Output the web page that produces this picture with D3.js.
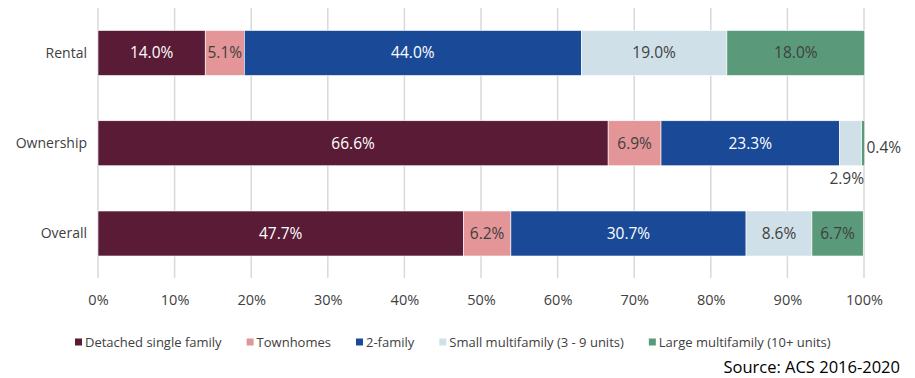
<!DOCTYPE html>
<html>
<head>
<meta charset="utf-8">
<script src="https://cdn.jsdelivr.net/npm/d3@7"></script>
<style>
  html, body { margin: 0; padding: 0; background: #fff; }
  svg { display: block; }
  text { font-family: "Open Sans", "DejaVu Sans", sans-serif; }
</style>
</head>
<body>
<svg id="chart" width="915" height="378"></svg>
<script>
// Housing tenure by structure type
const categories = ["Rental", "Ownership", "Overall"];
const seriesNames = ["Detached single family", "Townhomes", "2-family", "Small multifamily (3 - 9 units)", "Large multifamily (10+ units)"];
const detached = [14.0, 66.6, 47.7];
const townhomes = [5.1, 6.9, 6.2];
const twoFamily = [44.0, 23.3, 30.7];
const smallMulti = [19.0, 2.9, 8.6];
const largeMulti = [18.0, 0.4, 6.7];
const tickValues = [0, 10, 20, 30, 40, 50, 60, 70, 80, 90, 100];
const sourceText = "Source: ACS 2016-2020";

const colors = ["#5a1b36", "#e39598", "#1a4a97", "#d0e0e9", "#5a9a7a"];
const labelColors = ["#ffffff", "#404040", "#ffffff", "#404040", "#404040"];

const seriesValues = [detached, townhomes, twoFamily, smallMulti, largeMulti];
const rows = categories.map((c, i) => {
  const r = { category: c };
  seriesNames.forEach((s, j) => { r[s] = seriesValues[j][i]; });
  return r;
});
const stacked = d3.stack().keys(seriesNames)(rows);

const svg = d3.select("#chart");
const W = 915;
const plotTop = 8, plotBottom = 278;

const x = d3.scaleLinear().domain([0, 100]).range([98, 864]);
const y = d3.scalePoint().domain(categories).range([53, 233.5]);
const bandH = 45;

// gridlines
svg.append("g")
  .selectAll("line")
  .data(tickValues)
  .join("line")
  .attr("x1", d => x(d)).attr("x2", d => x(d))
  .attr("y1", plotTop).attr("y2", plotBottom)
  .attr("stroke", "#d9d9d9").attr("stroke-width", 1.5);

// x axis labels
const xAxis = d3.axisBottom(x).tickValues(tickValues).tickFormat(d => d + "%").tickSize(0).tickPadding(0);
const gx = svg.append("g").attr("transform", "translate(0,300)").call(xAxis);
gx.select(".domain").remove();
gx.selectAll("text").attr("font-size", 14.5).attr("fill", "#404040")
  .attr("font-family", '"Open Sans", sans-serif').attr("dy", "0.35em");

// y axis labels
const yAxis = d3.axisLeft(y).tickSize(0).tickPadding(11);
const gy = svg.append("g").attr("transform", "translate(98,0)").call(yAxis);
gy.select(".domain").remove();
gy.selectAll("text").attr("font-size", 14).attr("fill", "#404040")
  .attr("font-family", '"Open Sans", sans-serif');

// bars
const layers = svg.append("g").selectAll("g")
  .data(stacked)
  .join("g")
  .attr("fill", (d, i) => colors[i]);

layers.selectAll("rect")
  .data(d => d)
  .join("rect")
  .attr("x", d => x(d[0]))
  .attr("width", d => x(d[1]) - x(d[0]))
  .attr("y", d => y(d.data.category) - bandH / 2)
  .attr("height", bandH)
  .attr("stroke", "#ffffff").attr("stroke-width", 0.6);

// value labels
const labels = [];
stacked.forEach((layer, j) => {
  layer.forEach(d => {
    labels.push({ j, v: d.data[layer.key], x0: d[0], x1: d[1], cat: d.data.category });
  });
});

// the two thin Ownership segments get their labels outside the bar
const outside = d => d.cat === "Ownership" && d.j >= 3;

svg.append("g").selectAll("text")
  .data(labels)
  .join("text")
  .attr("x", d => {
    if (outside(d) && d.j === 4) return x(d.x1) + 19;
    if (outside(d) && d.j === 3) return x(d.x1) - 15;
    return x((d.x0 + d.x1) / 2);
  })
  .attr("y", d => {
    if (outside(d) && d.j === 3) return y(d.cat) + 35;
    if (outside(d) && d.j === 4) return y(d.cat) + 4;
    return y(d.cat);
  })
  .attr("dy", "0.35em")
  .attr("text-anchor", "middle")
  .attr("font-size", 15.5)
  .attr("fill", d => outside(d) ? "#404040" : labelColors[d.j])
  .text(d => d.v.toFixed(1) + "%");

// legend
const lg = svg.append("g").attr("transform", "translate(0,342)");
const items = lg.selectAll("g").data(seriesNames).join("g");
let cursor = 75;
items.each(function (d, i) {
  const g = d3.select(this);
  g.append("rect").attr("x", 0).attr("y", -3.5).attr("width", 7).attr("height", 7).attr("fill", colors[i]);
  const t = g.append("text").attr("x", 10).attr("y", 0).attr("dy", "0.35em")
    .attr("font-size", 13).attr("fill", "#404040").text(d);
  g.attr("transform", `translate(${cursor},0)`);
  cursor += 10 + t.node().getComputedTextLength() + 25;
});

// source
svg.append("text")
  .attr("x", 900).attr("y", 367)
  .attr("dy", "0.35em")
  .attr("text-anchor", "end")
  .attr("font-size", 16.5)
  .attr("fill", "#000")
  .attr("font-family", '"Open Sans", sans-serif')
  .text(sourceText);
</script>
</body>
</html>
